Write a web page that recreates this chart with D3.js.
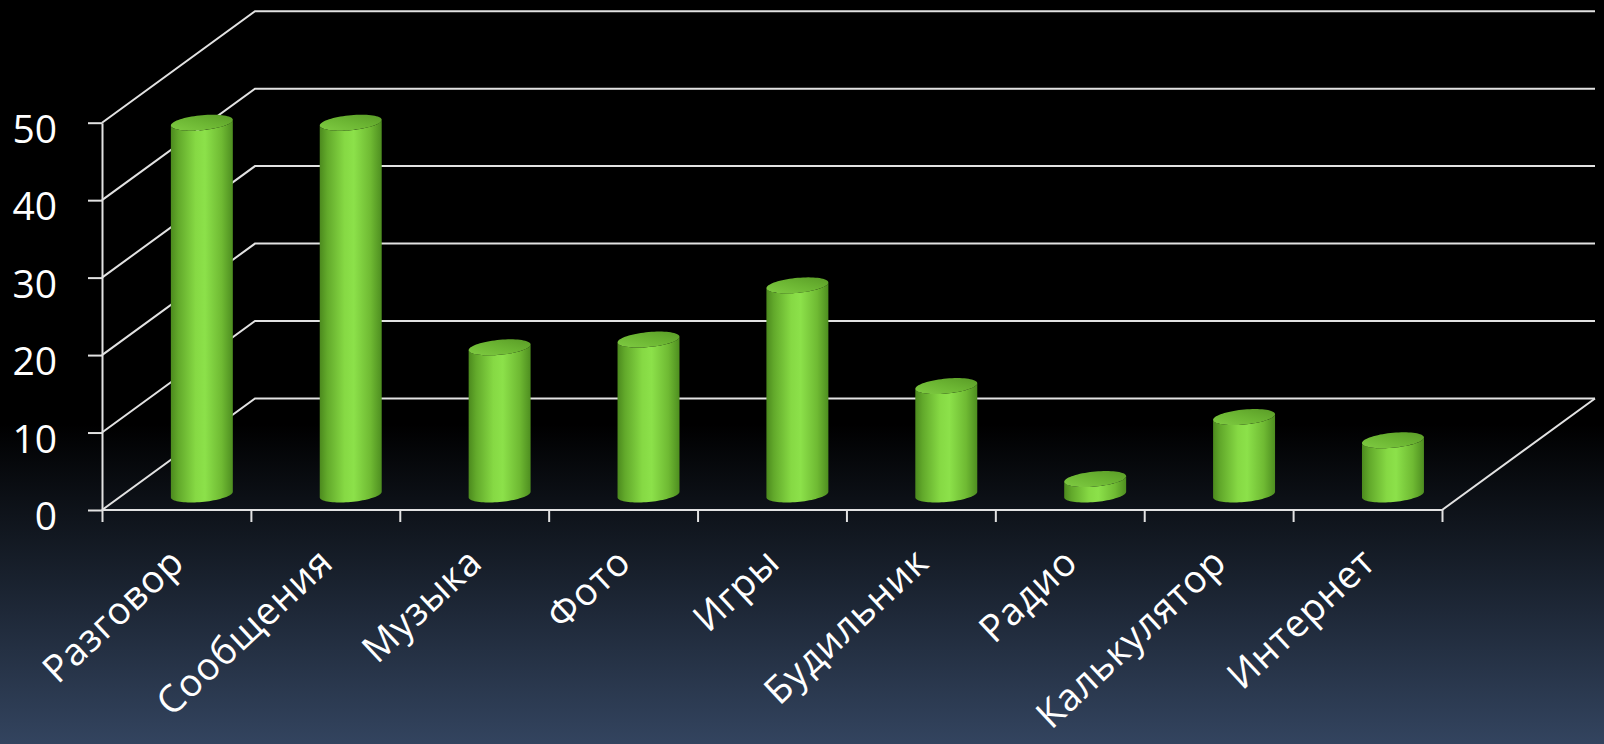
<!DOCTYPE html>
<html><head><meta charset="utf-8">
<script src="https://cdn.jsdelivr.net/npm/d3@7"></script>
<style>html,body{margin:0;padding:0;background:#000;overflow:hidden}</style>
</head><body>
<script>
const categories = ["Разговор","Сообщения","Музыка","Фото","Игры","Будильник","Радио","Калькулятор","Интернет"];
const values = [48,48,19,20,27,14,2,10,7];
const yTicks = [0,10,20,30,40,50];

const W = 1604, H = 744;
const svg = d3.select("body").append("svg").attr("width",W).attr("height",H);
const defs = svg.append("defs");

const bg = defs.append("linearGradient").attr("id","bg").attr("x1",0).attr("y1",0).attr("x2",0).attr("y2",1);
bg.append("stop").attr("offset","0%").attr("stop-color","#000");
bg.append("stop").attr("offset","57%").attr("stop-color","#000");
bg.append("stop").attr("offset","72%").attr("stop-color","#121821");
bg.append("stop").attr("offset","100%").attr("stop-color","#33445f");
svg.append("rect").attr("width",W).attr("height",H).attr("fill","url(#bg)");

const bodyG = defs.append("linearGradient").attr("id","body").attr("x1",0).attr("y1",0).attr("x2",1).attr("y2",0);
[["0%","#4c8a1e"],["12%","#62a92b"],["40%","#86d944"],["55%","#8ce14a"],["82%","#6fba33"],["100%","#4e8e20"]]
  .forEach(s=>bodyG.append("stop").attr("offset",s[0]).attr("stop-color",s[1]));
const capG = defs.append("linearGradient").attr("id","cap").attr("x1",0).attr("y1",1).attr("x2",1).attr("y2",0);
[["0%","#7fcb42"],["50%","#6cb633"],["100%","#5a9c27"]]
  .forEach(s=>capG.append("stop").attr("offset",s[0]).attr("stop-color",s[1]));

const x = d3.scaleBand().domain(categories).range([102,1442]).padding(0);
const xi = d3.scaleLinear().domain([0,categories.length]).range([102,1442]);
const y = d3.scaleLinear().domain([0,50]).range([510,122.7]);
const DX = 153, DY = -111.5;
const stroke = "#e2e2e2";

// back wall / side wall gridlines
const g = svg.append("g");
g.selectAll("path.grid").data(yTicks).join("path")
  .attr("d", v => `M${xi(0)},${y(v)} L${xi(0)+DX},${y(v)+DY} L${xi(categories.length)+DX},${y(v)+DY}`)
  .attr("fill","none").attr("stroke",stroke).attr("stroke-width",2);

// floor front & right edge
svg.append("path")
  .attr("d", `M${xi(0)},${y(0)} L${xi(categories.length)},${y(0)} L${xi(categories.length)+DX},${y(0)+DY}`)
  .attr("fill","none").attr("stroke",stroke).attr("stroke-width",2);

// cylinders
const offX = 25.4, offY = -15.5;
const a = 29, bx = 10.9, by = -8;
const thR = Math.atan2(bx, a), thL = thR + Math.PI;
function pt(cx, cy, t){ return [cx + a*Math.cos(t) + bx*Math.sin(t), cy + by*Math.sin(t)]; }
function arc(cx, cy, t0, t1, n){ const p=[]; for(let i=0;i<=n;i++){ p.push(pt(cx,cy,t0+(t1-t0)*i/n)); } return p; }
const line = d3.line();

const cyl = svg.append("g").selectAll("g").data(categories.map((c,i)=>({c, v: values[i]}))).join("g");
cyl.append("path").attr("fill","url(#body)")
  .attr("d", d => {
    const cx = x(d.c) + x.bandwidth()/2 + offX;
    const yb = y(0) + offY, yt = y(d.v) + offY;
    const pts = arc(cx, yb, thL, thR + 2*Math.PI, 40).concat(arc(cx, yt, thR + 2*Math.PI, thL, 40));
    return line(pts) + "Z";
  });
cyl.append("path").attr("fill","url(#cap)")
  .attr("d", d => {
    const cx = x(d.c) + x.bandwidth()/2 + offX;
    const yt = y(d.v) + offY;
    return line(arc(cx, yt, 0, 2*Math.PI, 72)) + "Z";
  });

// y axis
const ya = svg.append("g").attr("transform",`translate(${xi(0)},0)`)
  .call(d3.axisLeft(y).tickValues(yTicks).tickSize(14).tickSizeOuter(0).tickPadding(31));
ya.select(".domain").attr("stroke",stroke).attr("stroke-width",2);
ya.selectAll(".tick line").attr("stroke",stroke).attr("stroke-width",2);
ya.selectAll(".tick text").attr("fill","#fff").attr("font-family","'Open Sans'").attr("font-size",39)
  .attr("dy","0.5em");

// x axis ticks at category boundaries
const xa = svg.append("g").attr("transform",`translate(0,${y(0)})`)
  .call(d3.axisBottom(xi).tickValues(d3.range(categories.length+1)).tickFormat("").tickSize(12).tickSizeOuter(0));
xa.select(".domain").remove();
xa.selectAll(".tick line").attr("stroke",stroke).attr("stroke-width",2);

// category labels
svg.append("g").selectAll("text").data(categories).join("text")
  .attr("transform", d => `translate(${x(d)+x.bandwidth()/2+10},565) rotate(-43)`)
  .attr("text-anchor","end").attr("fill","#fff")
  .attr("font-family","'Open Sans'").attr("font-size",38).attr("letter-spacing",0.8)
  .text(d => d);
</script>
</body></html>
